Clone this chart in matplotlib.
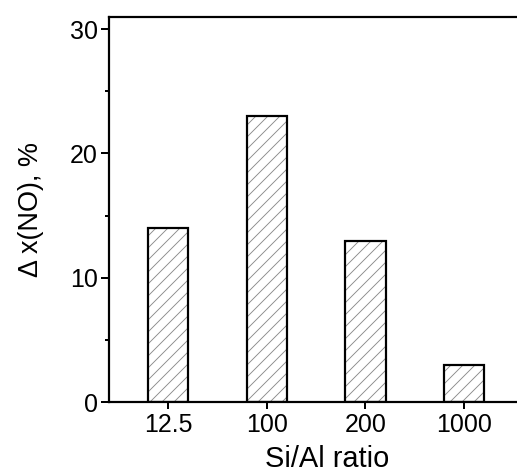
import numpy as np
import matplotlib.pyplot as plt
from matplotlib.ticker import MultipleLocator

plt.rcParams['font.family'] = ['Liberation Sans', 'DejaVu Sans']
plt.rcParams['hatch.linewidth'] = 0.9

ratios = ['12.5', '100', '200', '1000']
dx_no = [14, 23, 13, 3]

# dpi 72 so 1 pt = 1 px
fig = plt.figure(figsize=(517 / 72, 475 / 72), dpi=72)
# axes runs past the right edge of the figure (original is cropped)
ax = fig.add_axes([0.211, 0.153, 0.845, 0.812])
pos = np.arange(1, len(ratios) + 1)
# grey hatch first, then black outline on top
ax.bar(pos, dx_no, width=0.41, color='white', edgecolor='#8a8a8a',
       linewidth=0, hatch='//')
ax.bar(pos, dx_no, width=0.41, fill=False, edgecolor='black', linewidth=2.2)

ax.set_xlim(0.4, 4.83)
ax.set_ylim(0, 31)
ax.set_xticks(pos)
ax.set_xticklabels(ratios)
ax.yaxis.set_major_locator(MultipleLocator(10))
ax.yaxis.set_minor_locator(MultipleLocator(5))
ax.spines['right'].set_visible(False)
for s in ['left', 'top', 'bottom']:
    ax.spines[s].set_linewidth(2.2)
ax.tick_params(which='major', direction='out', length=8, width=2,
               labelsize=25, pad=3)
ax.tick_params(axis='x', which='major', length=7, pad=4)
ax.tick_params(which='minor', direction='out', length=4, width=2)
ax.tick_params(axis='x', which='minor', bottom=False)
ax.set_xlabel('Si/Al ratio', fontsize=29, labelpad=8)
ax.set_ylabel('\u0394 x(NO), %', fontsize=27, labelpad=26)

fig.savefig('out.png', dpi=72)
